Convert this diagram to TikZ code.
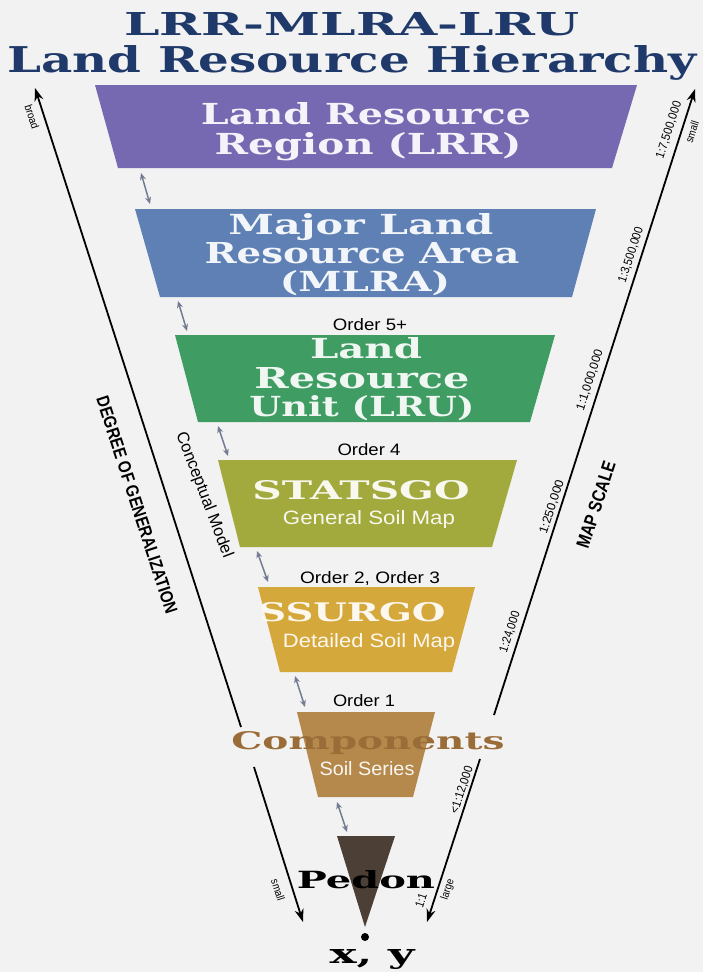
\documentclass[tikz,border=0pt]{standalone}
\usepackage{fontspec}
\setmainfont{DejaVu Serif}
\newfontfamily\ars{Liberation Sans}
\newfontfamily\heavyf{DejaVu Serif Bold}
\usetikzlibrary{arrows.meta}
\definecolor{bg}{HTML}{F2F2F2}
\definecolor{navy}{HTML}{1F3A6A}
\definecolor{clrr}{HTML}{7768B2}
\definecolor{cmlra}{HTML}{5F80B4}
\definecolor{clru}{HTML}{3F9C62}
\definecolor{cstat}{HTML}{A2AA3D}
\definecolor{cssur}{HTML}{D5A83C}
\definecolor{ccomp}{HTML}{B5884B}
\definecolor{cped}{HTML}{4C3F35}
\definecolor{ctxtcomp}{HTML}{9A6C38}
\definecolor{garrow}{HTML}{737C92}
\newcommand\fitb[3]{\resizebox{#1pt}{#2pt}{#3}}
\begin{document}
\begin{tikzpicture}[x=1pt,y=-1pt,
  heavy/.style={font=\heavyf, anchor=base, inner sep=0pt},
  sanstxt/.style={font=\ars, anchor=base, inner sep=0pt},
  lab/.style={font=\ars\fontsize{10}{12}\selectfont, inner sep=0pt, anchor=center},
  boldlab/.style={font=\ars\bfseries, inner sep=0pt, anchor=center},
  bigarrow/.style={line width=1.8pt, black},
  linkarrow/.style={line width=1.5pt, garrow, {Stealth[length=7pt,width=6pt]}-{Stealth[length=7pt,width=6pt]}}]
\useasboundingbox (0,0) rectangle (703,972);
\fill[bg] (0,0) rectangle (703,972);

% title
\node[heavy, text=navy] (t1) at (352,35) {\fitb{455}{23}{LRR-MLRA-LRU}};
\node[heavy, text=navy] (t2) at (352,72) {\fitb{689}{27}{Land Resource Hierarchy}};

% boxes
\fill[clrr] (95,85) -- (637,85) -- (612,168) -- (118,168) -- cycle;
\fill[cmlra] (135,209) -- (596,209) -- (572,297) -- (160,297) -- cycle;
\fill[clru] (175,335) -- (555,335) -- (530,422) -- (198,422) -- cycle;
\fill[cstat] (218,460) -- (517,460) -- (492,547) -- (240,547) -- cycle;
\fill[cssur] (258,587) -- (475,587) -- (452,672) -- (280,672) -- cycle;
\fill[ccomp] (297,712) -- (435,712) -- (413,797) -- (318,797) -- cycle;
\fill[cped] (337,836) -- (395,836) -- (365,927) -- cycle;
\fill[black] (365,937) circle (4pt);

% box texts
\node[heavy, text=white!92!clrr] (lrr1) at (366,124) {\fitb{330}{22}{Land Resource}};
\node[heavy, text=white!92!clrr] (lrr2) at (368,154) {\fitb{307}{22}{Region (LRR)}};
\node[heavy, text=white!92!cmlra] (ml1) at (361,234) {\fitb{265}{21}{Major Land}};
\node[heavy, text=white!92!cmlra] (ml2) at (362,263) {\fitb{315}{21}{Resource Area}};
\node[heavy, text=white!92!cmlra] (ml3) at (365,291) {\fitb{170}{21}{(MLRA)}};
\node[sanstxt] (o5) at (370,330) {\fitb{74}{12}{Order 5+}};
\node[heavy, text=white!92!clru] (lru1) at (366,358) {\fitb{112}{21}{Land}};
\node[heavy, text=white!92!clru] (lru2) at (362,388) {\fitb{215}{21}{Resource}};
\node[heavy, text=white!92!clru] (lru3) at (362,416) {\fitb{225}{21}{Unit (LRU)}};
\node[sanstxt] (o4) at (369,455) {\fitb{63}{12}{Order 4}};
\node[heavy, text=white!92!cstat] (st1) at (361,499) {\fitb{217}{19}{STATSGO}};
\node[sanstxt, text=white!92!cstat] (st2) at (369,524) {\fitb{172}{14}{General Soil Map}};
\node[sanstxt] (o23) at (370,583) {\fitb{140}{12}{Order 2, Order 3}};
\node[heavy, text=white!92!cssur] (ss1) at (352,621) {\fitb{187}{19}{SSURGO}};
\node[sanstxt, text=white!92!cssur] (ss2) at (369,647) {\fitb{172}{14}{Detailed Soil Map}};
\node[sanstxt] (o1) at (364,706) {\fitb{62}{12}{Order 1}};
\node[heavy, text=ctxtcomp] (co1) at (368,749) {\fitb{273}{18}{Components}};
\node[sanstxt, text=white!92!ccomp] (co2) at (367,775) {\fitb{95}{14}{Soil Series}};
\node[heavy, text=black] (ped) at (366,888) {\fitb{138}{18}{Pedon}};
\node[heavy, text=black] (xy) at (372,963) {\fitb{85}{14}{x, y}};

% link arrows
\coordinate (d1a) at (141,173); \coordinate (d1b) at (150,204);
\coordinate (d2a) at (178,301); \coordinate (d2b) at (187,331);
\coordinate (d3a) at (218,426); \coordinate (d3b) at (228,456);
\coordinate (d4a) at (257,551); \coordinate (d4b) at (268,582);
\coordinate (d5a) at (295,676); \coordinate (d5b) at (305,707);
\coordinate (d6a) at (337,802); \coordinate (d6b) at (347,832);
\draw[linkarrow] (d1a) -- (d1b);
\draw[linkarrow] (d2a) -- (d2b);
\draw[linkarrow] (d3a) -- (d3b);
\draw[linkarrow] (d4a) -- (d4b);
\draw[linkarrow] (d5a) -- (d5b);
\draw[linkarrow] (d6a) -- (d6b);

% big arrows
\coordinate (gtop) at (35,88); \coordinate (gg1) at (241,727);
\coordinate (gg2) at (254,767); \coordinate (gbot) at (303,922);
\draw[bigarrow, {Stealth[length=13pt,width=9pt]}-] (gtop) -- (gg1);
\draw[bigarrow, -{Stealth[length=13pt,width=9pt]}] (gg2) -- (gbot);
\coordinate (mtop) at (695,89); \coordinate (mg1) at (494,715);
\coordinate (mg2) at (480,759); \coordinate (mbot) at (427,922);
\draw[bigarrow, {Stealth[length=13pt,width=9pt]}-] (mtop) -- (mg1);
\draw[bigarrow, -{Stealth[length=13pt,width=9pt]}] (mg2) -- (mbot);

% left labels
\node[lab, rotate=-72] (broad) at (32,117) {\fitb{25}{8}{broad}};
\node[boldlab, rotate=-72] (deg) at (137,505) {\fitb{227}{12.5}{DEGREE OF GENERALIZATION}};
\node[lab, rotate=-69] (concept) at (204,495) {\fitb{133}{12}{Conceptual Model}};
\node[lab, rotate=-72] (lsmall) at (278,890) {\fitb{22}{8}{small}};

% right labels
\node[lab, rotate=72] (s1) at (669,130) {\fitb{59}{8.5}{1:7,500,000}};
\node[lab, rotate=72] (rsmall) at (692,132) {\fitb{22}{8}{small}};
\node[lab, rotate=72] (s2) at (631,255) {\fitb{58}{8.5}{1:3,500,000}};
\node[lab, rotate=72] (s3) at (590,380) {\fitb{63}{8.5}{1:1,000,000}};
\node[boldlab, rotate=72] (mapscale) at (596,505) {\fitb{90}{13}{MAP SCALE}};
\node[lab, rotate=72] (s4) at (552,507) {\fitb{56}{8.5}{1:250,000}};
\node[lab, rotate=72] (s5) at (510,632) {\fitb{43}{8.5}{1:24,000}};
\node[lab, rotate=72] (s6) at (462,790) {\fitb{50}{8.5}{<1:12,000}};
\node[lab, rotate=72] (s7) at (421,901) {\fitb{14}{8.5}{1:1}};
\node[lab, rotate=72] (large) at (448,890) {\fitb{21}{8}{large}};
\end{tikzpicture}
\end{document}
